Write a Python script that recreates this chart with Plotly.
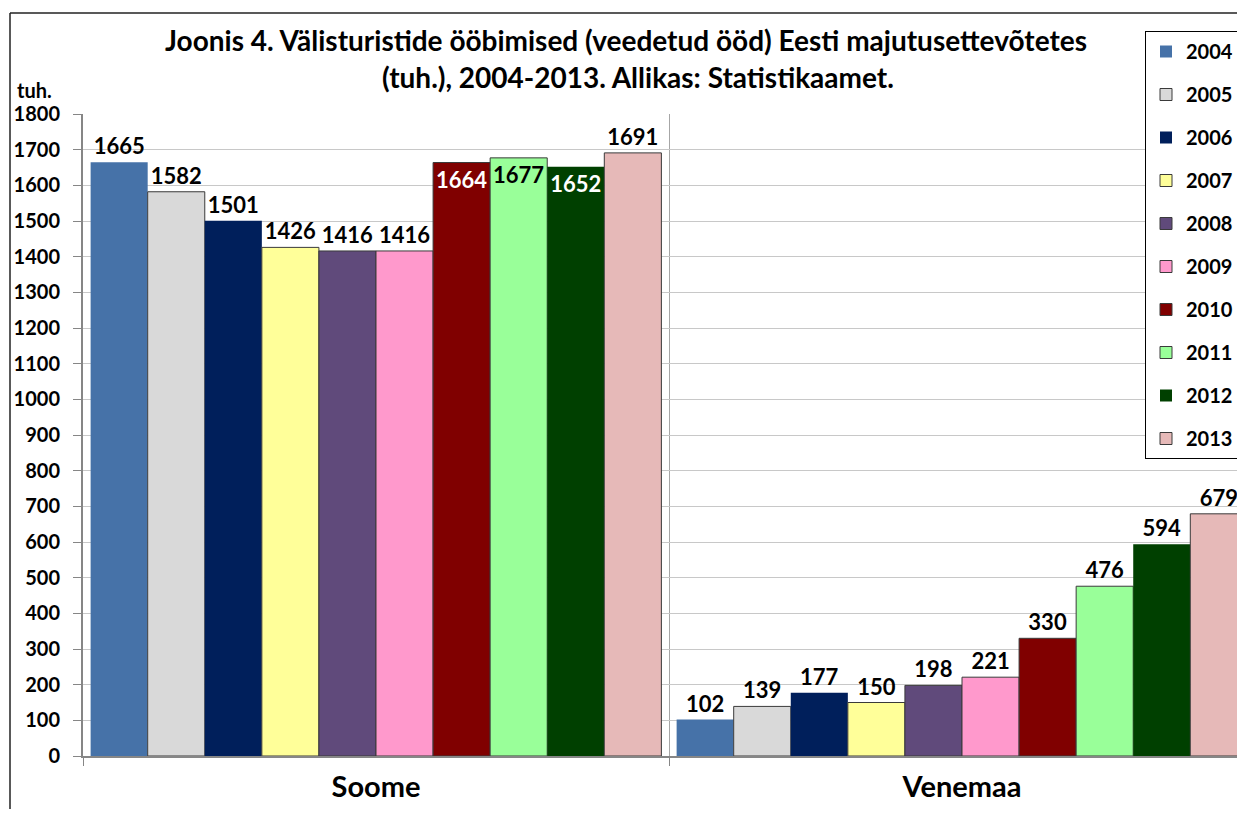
import plotly.graph_objects as go

# data
categories = ["Soome", "Venemaa"]
years = ["2004", "2005", "2006", "2007", "2008", "2009", "2010", "2011", "2012", "2013"]
soome = [1665, 1582, 1501, 1426, 1416, 1416, 1664, 1677, 1652, 1691]
venemaa = [102, 139, 177, 150, 198, 221, 330, 476, 594, 679]

colors = ["#4672A8", "#D9D9D9", "#001F5B", "#FFFF99", "#604A7B",
          "#FF99CC", "#800000", "#99FF99", "#004000", "#E6B9B8"]
outlined = [False, True, False, True, True, True, True, True, False, True]
# label inside the Soome bar (and its colour) for these years
inside_soome = {"2010": "white", "2011": "black", "2012": "white"}

# the page body has an 8px margin, so the figure is drawn 8px in from the corner
# and kept small enough that the page does not scroll
OFF = 8
W, H = 1245 - OFF, 817 - 2 * OFF
L, T = 83 - OFF, 114 - OFF
B = H - (756 - OFF)
plot_w = W - L
plot_h = H - T - B
cat_w = 586  # pixel width of one category


def px(x):
    # page pixel -> paper x
    return (x - OFF - L) / plot_w


def py(y):
    # page pixel -> paper y
    return (H - B - (y - OFF)) / plot_h


FONT = "Lato"

fig = go.Figure()
for i, yr in enumerate(years):
    pos = ["outside", "outside"]
    tcol = ["black", "black"]
    if yr in inside_soome:
        pos[0] = "inside"
        tcol[0] = inside_soome[yr]
    fig.add_trace(go.Bar(
        x=categories, y=[soome[i], venemaa[i]], name=yr,
        legendgroup=yr,
        marker=dict(color=colors[i],
                    line=dict(color="#3A3A3A", width=1 if outlined[i] else 0)),
        text=[str(soome[i]), str(venemaa[i])],
        textposition=pos, insidetextanchor="end", constraintext="none",
        textangle=0,
        textfont=dict(family=FONT, size=22, color=tcol, weight="bold"),
        hoverinfo="skip",
    ))

fig.update_layout(
    width=W, height=H,
    margin=dict(l=L, r=0, t=T, b=B, pad=0),
    paper_bgcolor="white", plot_bgcolor="white",
    font=dict(family=FONT, color="black", weight="bold"),
    barmode="group", bargap=0.026, bargroupgap=0,
    showlegend=True,
    legend=dict(x=px(1145), y=py(31), xanchor="left", yanchor="top",
                bgcolor="white", bordercolor="black", borderwidth=1,
                font=dict(family=FONT, size=20, color="black", weight="bold"),
                traceorder="grouped", tracegroupgap=14, maxheight=700),
    xaxis=dict(type="category", range=[-0.5, -0.5 + plot_w / cat_w],
               tickson="boundaries", ticks="outside", ticklen=8,
               tickcolor="#868686", showgrid=True, gridcolor="#A6A6A6",
               showline=True, linecolor="#868686", linewidth=2,
               tickfont=dict(family=FONT, size=29, color="black", weight="bold"),
               ticklabelstandoff=4),
    yaxis=dict(range=[0, 1800], dtick=100, ticks="outside", ticklen=8,
               tickcolor="#868686", showgrid=True, gridcolor="#C8C8C8",
               zeroline=False, showline=True, linecolor="#868686", linewidth=2,
               tickfont=dict(family=FONT, size=20, color="black", weight="bold"),
               ticklabelstandoff=9),
)

# title lines and unit label
fig.add_annotation(x=px(626), y=py(40), xref="paper", yref="paper",
                   text="Joonis 4. Välisturistide ööbimised (veedetud ööd) Eesti majutusettevõtetes",
                   showarrow=False, xanchor="center", yanchor="middle",
                   font=dict(family=FONT, size=28, color="black", weight="bold"))
fig.add_annotation(x=px(638), y=py(77), xref="paper", yref="paper",
                   text="(tuh.), 2004-2013. Allikas: Statistikaamet.",
                   showarrow=False, xanchor="center", yanchor="middle",
                   font=dict(family=FONT, size=28, color="black", weight="bold"))
fig.add_annotation(x=px(15), y=py(90), xref="paper", yref="paper",
                   text="tuh.", showarrow=False, xanchor="left", yanchor="middle",
                   font=dict(family=FONT, size=20, color="black", weight="bold"))

# chart frame (right and bottom edges fall outside the picture)
fig.add_shape(type="line", xref="paper", yref="paper",
              x0=px(10), x1=px(10), y0=py(13), y1=py(830),
              line=dict(color="#222222", width=1.5))
fig.add_shape(type="line", xref="paper", yref="paper",
              x0=px(10), x1=px(1260), y0=py(13), y1=py(13),
              line=dict(color="#222222", width=1.5))

fig.write_html("out.html")
